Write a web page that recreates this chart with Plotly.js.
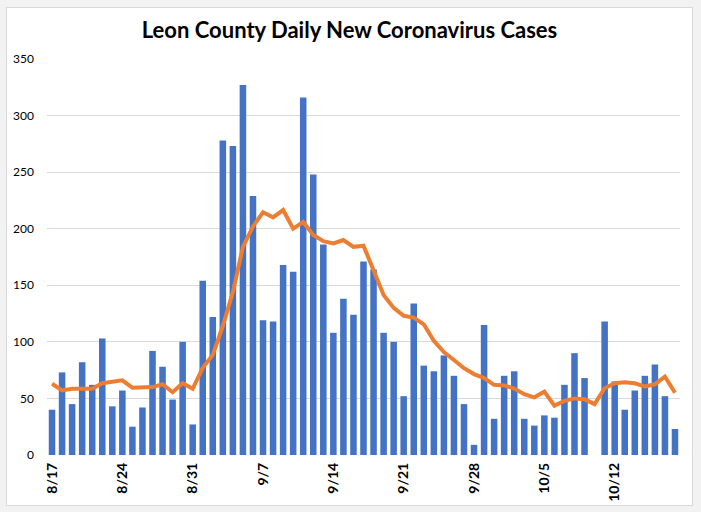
<!DOCTYPE html>
<html>
<head>
<meta charset="utf-8">
<script src="https://cdn.plot.ly/plotly-3.0.1.min.js"></script>
<style>
  html, body { margin: 0; padding: 0; background: #f2f2f2; }
  #frame { position: absolute; left: 6px; top: 7px; width: 685px; height: 497px;
           border: 1px solid #d9d9d9; background: #ffffff; }
  #chart { width: 685px; height: 497px; }
</style>
</head>
<body>
<div id="frame"><div id="chart"></div></div>
<script>
const dates = ['8/17','8/18','8/19','8/20','8/21','8/22','8/23','8/24','8/25','8/26','8/27','8/28','8/29','8/30','8/31',
  '9/1','9/2','9/3','9/4','9/5','9/6','9/7','9/8','9/9','9/10','9/11','9/12','9/13','9/14','9/15','9/16','9/17','9/18','9/19','9/20',
  '9/21','9/22','9/23','9/24','9/25','9/26','9/27','9/28','9/29','9/30',
  '10/1','10/2','10/3','10/4','10/5','10/6','10/7','10/8','10/9','10/10','10/11','10/12','10/13','10/14','10/15','10/16','10/17','10/18'];

const dailyCases = [40,73,45,82,62,103,43,57,25,42,92,78,49,100,27,
  154,122,278,273,327,229,119,118,168,162,316,248,186,108,138,124,171,164,108,100,
  52,134,79,74,88,70,45,9,115,32,
  70,74,32,26,35,33,62,90,68,0,118,65,40,57,70,80,52,23];

const avgCases = [63,57,58.5,58.5,58.5,63.5,64.5,66,59.5,59.5,60,62.5,55.5,63.5,58.5,
  77,88.5,114,144,184,202,214.5,210,216.5,200,206,194.5,189,187,190,184,185,164,141.5,130,
  123,121.5,115.5,101,91,84,76.7,71.5,68,62,
  61.5,58.7,53.7,51,56,43.6,47.8,50,49.2,45,59,63.4,64.3,63.4,60.5,62.5,69.3,55];

const tickLabels = ['8/17','8/24','8/31','9/7','9/14','9/21','9/28','10/5','10/12'];
const yTicks = [0,50,100,150,200,250,300,350];

const traces = [
  { type: 'bar', x: dates, y: dailyCases, name: 'Daily New Cases',
    marker: { color: '#4472C4' }, hoverinfo: 'x+y' },
  { type: 'scatter', mode: 'lines', x: dates, y: avgCases, name: '7-Day Average',
    line: { color: '#ED7D31', width: 4 }, hoverinfo: 'x+y' }
];

const layout = {
  width: 685, height: 497,
  margin: { l: 40, r: 12, t: 51, b: 50 },
  paper_bgcolor: '#ffffff', plot_bgcolor: '#ffffff',
  showlegend: false,
  bargap: 0.35,
  font: { family: 'Lato, "Open Sans", sans-serif', color: '#000000', size: 12 },
  title: { text: '<b>Leon County Daily New Coronavirus Cases</b>',
           font: { size: 22, color: '#000000', family: 'Lato, "Open Sans", sans-serif' },
           x: 0.5, xanchor: 'center', y: 0.955, yanchor: 'middle' },
  xaxis: { type: 'category', categoryorder: 'array', categoryarray: dates,
           tickmode: 'array', tickvals: tickLabels, ticktext: tickLabels.map(t => '<b>' + t + '</b>'),
           tickangle: -90, ticks: '', showgrid: false, zeroline: false, showline: false,
           ticklabelstandoff: 4,
           tickfont: { size: 14, color: '#000000' }, fixedrange: true },
  yaxis: { range: [0, 350], tickmode: 'array', tickvals: yTicks, ticks: '',
           showgrid: true, gridcolor: '#d9d9d9', gridwidth: 1,
           zeroline: false, showline: false, ticklabelstandoff: 12,
           tickfont: { size: 12, color: '#000000' }, fixedrange: true }
};

Plotly.newPlot('chart', traces, layout, { displayModeBar: false, staticPlot: true });
</script>
</body>
</html>
